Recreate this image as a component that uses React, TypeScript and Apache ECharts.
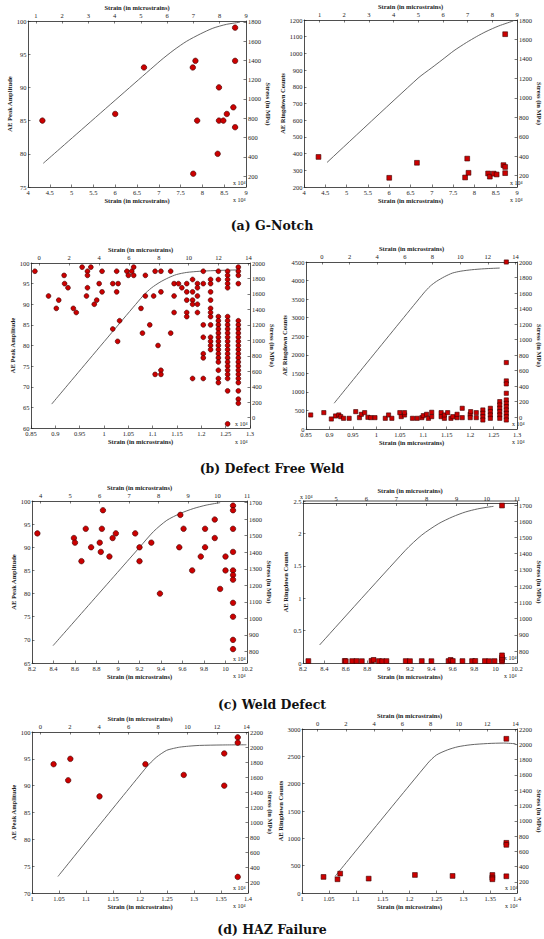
import React, { useEffect, useRef } from "react";
import * as echarts from "echarts";

const FONT = "'Liberation Serif', 'DejaVu Serif', serif";
const CAPTION_FONT = "'DejaVu Serif', 'Liberation Serif', serif";
const INK = "#222222";
const RED = "#cc0000";
const CURVE = "#555555";
const STRAIN = "Strain (in microstrains)";
const STRESS = "Stress (in MPa)";

// ---------- (a) G-Notch ----------
const aBottomTicks = [4, 4.5, 5, 5.5, 6, 6.5, 7, 7.5, 8, 8.5, 9];
const aTopTicks = [1, 2, 3, 4, 5, 6, 7, 8, 9];
const aStressTicks = [200, 400, 600, 800, 1000, 1200, 1400, 1600, 1800];
const aAmpStrain = [4.33, 6.0, 6.66, 7.78, 7.84, 7.88, 7.79, 8.35, 8.38, 8.38, 8.48, 8.56, 8.71, 8.75, 8.75, 8.75];
const aAmpValue = [85, 86, 93, 93, 94, 85, 77, 80, 90, 85, 85, 86, 87, 99, 94, 84];
const aCntStrain = [4.34, 6.0, 6.65, 7.83, 7.78, 7.86, 8.32, 8.36, 8.45, 8.52, 8.68, 8.72, 8.72, 8.72];
const aCntValue = [380, 255, 345, 370, 257, 285, 281, 262, 280, 275, 331, 320, 283, 1115];
const aCurveAmpStrain = [4.35, 7.03, 7.35, 7.64, 7.95, 8.24, 8.55, 8.86];
const aCurveAmpStress = [332, 1395, 1510, 1600, 1675, 1735, 1775, 1797];
const aCurveCntStrain = [4.54, 6.675, 7.0, 7.24, 7.52, 7.81, 8.05, 8.27, 8.57, 8.91];
const aCurveCntStress = [336, 1202, 1310, 1390, 1485, 1568, 1630, 1681, 1739, 1790];

// ---------- (b) Defect Free Weld ----------
const bBottomTicks = [0.85, 0.9, 0.95, 1, 1.05, 1.1, 1.15, 1.2, 1.25, 1.3];
const bTopTicks = [0, 2, 4, 6, 8, 10, 12, 14];
const bStressTicks = [0, 200, 400, 600, 800, 1000, 1200, 1400, 1600, 1800, 2000];
const bAmpStrain = [
  0.858, 0.918, 0.919, 0.886, 0.907, 0.902, 0.926, 0.937, 0.943, 0.955, 0.966, 0.966, 0.966, 0.964, 0.973,
  0.99, 0.996, 0.996, 0.98, 0.985, 1.018, 1.026, 1.026, 1.029, 1.018, 1.032, 1.028, 1.047, 1.05, 1.057,
  1.061, 1.061, 1.085, 1.085, 1.076, 1.079, 1.094, 1.105, 1.102, 1.105, 1.111, 1.117, 1.117, 1.117, 1.117,
  1.137, 1.137, 1.144, 1.144, 1.144, 1.153, 1.16, 1.17, 1.17, 1.17, 1.17, 1.17, 1.182, 1.182, 1.182,
  1.182, 1.182, 1.192, 1.192, 1.192, 1.192, 1.192, 1.204, 1.204, 1.204, 1.204, 1.204, 1.204, 1.204,
  1.219, 1.219, 1.219, 1.219, 1.219, 1.219, 1.219, 1.219, 1.219, 1.219, 1.219, 1.219,
  1.235, 1.235, 1.235, 1.235, 1.235, 1.235, 1.235, 1.235, 1.235, 1.235, 1.235, 1.235, 1.235, 1.235, 1.235, 1.235, 1.235,
  1.254, 1.254, 1.254, 1.254, 1.254, 1.254, 1.254, 1.254, 1.254, 1.254, 1.254, 1.254, 1.254, 1.254, 1.254, 1.254, 1.254, 1.254, 1.254, 1.254, 1.254, 1.254, 1.254,
  1.276, 1.276, 1.276, 1.276, 1.276, 1.276, 1.276, 1.276, 1.276, 1.276, 1.276, 1.276, 1.276, 1.276, 1.276, 1.276, 1.276, 1.276, 1.276, 1.276, 1.276, 1.276, 1.276,
];
const bAmpValue = [
  98, 97, 95, 92, 91, 89, 94, 89, 88, 99, 98, 97, 94, 92, 99,
  95, 98, 93, 90, 91, 95, 98, 93, 95, 84, 86, 81, 98, 97, 98,
  99, 97, 97, 92, 89, 83, 85, 98, 92, 73, 80, 98, 93, 74, 73,
  98, 83, 95, 92, 88, 95, 94, 95, 93, 91, 88, 87, 96, 93, 91,
  90, 72, 95, 94, 92, 90, 88, 98, 95, 85, 82, 78, 77, 72,
  96, 95, 93, 91, 89, 88, 87, 85, 82, 81, 80, 79,
  98, 96, 87, 86, 85, 84, 83, 82, 81, 80, 79, 78, 77, 76, 74, 72, 71,
  98, 97, 96, 95, 94, 87, 86, 85, 84, 83, 82, 81, 80, 79, 78, 77, 76, 75, 74, 73, 72, 69, 61,
  99, 98, 97, 95, 86, 85, 84, 83, 82, 81, 80, 79, 78, 77, 76, 75, 74, 73, 72, 71, 69, 67, 66,
];
const bCntStrain = [
  0.86, 0.888, 0.904, 0.913, 0.92, 0.924, 0.93, 0.942, 0.956, 0.964, 0.968, 0.975, 0.982, 0.988, 0.997,
  1.019, 1.026, 1.033, 1.05, 1.053, 1.06, 1.06, 1.077, 1.087, 1.097, 1.1, 1.107, 1.111, 1.118, 1.118,
  1.138, 1.138, 1.145, 1.145, 1.152, 1.159, 1.163, 1.172, 1.172, 1.183, 1.183, 1.2, 1.2, 1.201, 1.213, 1.213,
  1.227, 1.227, 1.227, 1.227, 1.243, 1.243, 1.243, 1.243,
  1.263, 1.263, 1.263, 1.263, 1.263, 1.263,
  1.277, 1.277, 1.277, 1.277, 1.277, 1.277, 1.277, 1.277, 1.277, 1.277, 1.277, 1.277,
];
const bCntValue = [
  378, 441, 270, 351, 378, 333, 288, 288, 468, 306, 396, 441, 315, 306, 306,
  288, 378, 288, 441, 333, 378, 441, 288, 288, 306, 360, 396, 288, 450, 333,
  441, 333, 288, 378, 441, 288, 333, 306, 396, 558, 306, 396, 306, 468, 441, 306,
  513, 423, 333, 243, 558, 468, 378, 288,
  738, 648, 558, 468, 378, 288,
  4500, 1791, 1296, 1215, 963, 783, 693, 603, 513, 423, 333, 243,
];
const bCurveAmpStrain = [0.8925, 1.0807, 1.098, 1.115, 1.132, 1.149, 1.17, 1.197, 1.24, 1.279];
const bCurveAmpStress = [176, 1580, 1680, 1752, 1808, 1851, 1878, 1893, 1905, 1911];
const bCurveCntStrain = [0.91, 1.101, 1.115, 1.128, 1.145, 1.162, 1.18, 1.203, 1.23, 1.263];
const bCurveCntStress = [181, 1600, 1690, 1750, 1810, 1857, 1882, 1900, 1913, 1922];

// ---------- (c) Weld Defect ----------
const cBottomTicks = [8.2, 8.4, 8.6, 8.8, 9, 9.2, 9.4, 9.6, 9.8, 10, 10.2];
const cTopTicksAmp = [4, 5, 6, 7, 8, 9, 10, 11];
const cTopTicksCnt = [5, 6, 7, 8, 9, 10, 11];
const cStressTicks = [800, 900, 1000, 1100, 1200, 1300, 1400, 1500, 1600, 1700];
const cAmpStrain = [
  8.25, 8.59, 8.6, 8.66, 8.7, 8.75, 8.83, 8.84, 8.85, 8.86, 8.92, 8.95, 8.98, 9.16, 9.2,
  9.2, 9.31, 9.39, 9.57, 9.58, 9.61, 9.69, 9.77, 9.81, 9.81, 9.9, 9.9, 9.95, 10.0, 10.0,
  10.07, 10.07, 10.07, 10.07, 10.07, 10.07, 10.07, 10.07, 10.07, 10.07, 10.07,
];
const cAmpValue = [
  93, 92, 91, 87, 94, 90, 91, 89, 94, 98, 88, 92, 93, 93, 90,
  87, 91, 80, 90, 97, 94, 85, 88, 94, 90, 96, 92, 81, 88, 85,
  99, 98, 94, 89, 85, 84, 83, 78, 75, 70, 68,
];
const cCntStrain = [
  8.25, 8.59, 8.6, 8.66, 8.7, 8.75, 8.84, 8.86, 8.91, 8.94, 8.98, 9.16, 9.2, 9.31, 9.4,
  9.56, 9.58, 9.6, 9.69, 9.78, 9.81, 9.9, 9.94, 9.99, 10.06, 10.06, 10.06, 10.06, 10.06,
];
const cCntValue = [
  300, 320, 280, 300, 310, 290, 330, 480, 300, 290, 300, 300, 290, 300, 290,
  300, 480, 310, 300, 300, 320, 300, 290, 300, 260, 510, 820, 1180, 24300,
];
const cCurveAmpStrain = [8.396, 9.205, 9.33, 9.454, 9.58, 9.7, 9.82, 9.95];
const cCurveAmpStress = [835, 1433, 1525, 1593, 1635, 1664, 1685, 1700];
const cCurveCntStrain = [8.355, 9.157, 9.31, 9.469, 9.6, 9.717, 9.83, 9.935, 9.98];
const cCurveCntStress = [837, 1421, 1515, 1586, 1628, 1657, 1676, 1688, 1692];

// ---------- (d) HAZ Failure ----------
const dBottomTicks = [1, 1.05, 1.1, 1.15, 1.2, 1.25, 1.3, 1.35, 1.4];
const dTopTicks = [0, 2, 4, 6, 8, 10, 12, 14];
const dStressTicks = [200, 400, 600, 800, 1000, 1200, 1400, 1600, 1800, 2000, 2200];
const dAmpStrain = [1.04, 1.067, 1.071, 1.125, 1.21, 1.281, 1.356, 1.356, 1.381, 1.381, 1.381];
const dAmpValue = [94, 91, 95, 88, 94, 92, 96, 90, 99, 98, 73];
const dCntStrain = [1.04, 1.066, 1.071, 1.124, 1.21, 1.28, 1.354, 1.354, 1.354, 1.38, 1.38, 1.38, 1.38];
const dCntValue = [294, 251, 355, 263, 330, 312, 330, 282, 251, 2821, 918, 881, 306];
const dCurveAmpStrain = [1.048, 1.212, 1.23, 1.249, 1.262, 1.2735, 1.29, 1.31, 1.35, 1.397];
const dCurveAmpStress = [274, 1739, 1870, 1963, 1990, 2007, 2020, 2030, 2036, 2039];
const dCurveCntStrain = [1.0615, 1.234, 1.25, 1.271, 1.29, 1.314, 1.345, 1.375, 1.397];
const dCurveCntStress = [274, 1754, 1860, 1928, 1968, 1994, 2010, 2016, 2007];

const CAPTIONS = ["(a) G-Notch", "(b) Defect Free Weld", "(c) Weld Defect", "(d) HAZ Failure"];

type Panel = {
  grid: { left: number; top: number; width: number; height: number };
  bottom: { min: number; max: number; ticks: number[] };
  top: { min: number; max: number; ticks: number[] };
  left: { min: number; max: number; interval: number; name: string; gap: number; fmt?: (v: number) => string };
  right: { min: number; max: number; ticks: number[]; gap: number };
  xs: number[];
  ys: number[];
  symbol: string;
  size: number;
  cx: number[];
  cs: number[];
};

const num = (v: number) => String(Math.round(v * 10000) / 10000);

const PANELS: Panel[] = [
  {
    grid: { left: 28, top: 21, width: 218, height: 166 },
    bottom: { min: 4, max: 9, ticks: aBottomTicks },
    top: { min: 0.7, max: 9, ticks: aTopTicks },
    left: { min: 75, max: 100, interval: 5, name: "AE Peak Amplitude", gap: 12 },
    right: { min: 86, max: 1810, ticks: aStressTicks, gap: 17 },
    xs: aAmpStrain, ys: aAmpValue, symbol: "circle", size: 5.5,
    cx: aCurveAmpStrain, cs: aCurveAmpStress,
  },
  {
    grid: { left: 304, top: 20, width: 220, height: 167 },
    bottom: { min: 4, max: 9, ticks: aBottomTicks },
    top: { min: 0.37, max: 9, ticks: aTopTicks },
    left: { min: 200, max: 1200, interval: 100, name: "AE Ringdown Counts", gap: 16 },
    right: { min: 84, max: 1800, ticks: aStressTicks, gap: 15 },
    xs: aCntStrain, ys: aCntValue, symbol: "rect", size: 4.8,
    cx: aCurveCntStrain, cs: aCurveCntStress,
  },
  {
    grid: { left: 31, top: 263, width: 219, height: 165 },
    bottom: { min: 0.85, max: 1.3, ticks: bBottomTicks },
    top: { min: -0.55, max: 14.1, ticks: bTopTicks },
    left: { min: 60, max: 100, interval: 5, name: "AE Peak Amplitude", gap: 13 },
    right: { min: -133, max: 2000, ticks: bStressTicks, gap: 17 },
    xs: bAmpStrain, ys: bAmpValue, symbol: "circle", size: 4.8,
    cx: bCurveAmpStrain, cs: bCurveAmpStress,
  },
  {
    grid: { left: 306, top: 262, width: 220, height: 167 },
    bottom: { min: 0.85, max: 1.3, ticks: bBottomTicks },
    top: { min: -1.15, max: 14.12, ticks: bTopTicks },
    left: { min: 0, max: 4500, interval: 500, name: "AE Ringdown Counts", gap: 17 },
    right: { min: -151, max: 2000, ticks: bStressTicks, gap: 13 },
    xs: bCntStrain, ys: bCntValue, symbol: "rect", size: 4.2,
    cx: bCurveCntStrain, cs: bCurveCntStress,
  },
  {
    grid: { left: 32, top: 501, width: 215, height: 162 },
    bottom: { min: 8.2, max: 10.2, ticks: cBottomTicks },
    top: { min: 3.71, max: 11, ticks: cTopTicksAmp },
    left: { min: 65, max: 100, interval: 5, name: "AE Peak Amplitude", gap: 12 },
    right: { min: 730, max: 1710, ticks: cStressTicks, gap: 16 },
    xs: cAmpStrain, ys: cAmpValue, symbol: "circle", size: 5.5,
    cx: cCurveAmpStrain, cs: cCurveAmpStress,
  },
  {
    grid: { left: 303, top: 501, width: 214, height: 162 },
    bottom: { min: 8.2, max: 10.2, ticks: cBottomTicks },
    top: { min: 3.9, max: 11, ticks: cTopTicksCnt },
    left: { min: 0, max: 25000, interval: 5000, name: "AE Ringdown Counts", gap: 13, fmt: (v: number) => num(v / 10000) },
    right: { min: 726, max: 1725, ticks: cStressTicks, gap: 16 },
    xs: cCntStrain, ys: cCntValue, symbol: "rect", size: 4.8,
    cx: cCurveCntStrain, cs: cCurveCntStress,
  },
  {
    grid: { left: 32, top: 732, width: 216, height: 161 },
    bottom: { min: 1, max: 1.4, ticks: dBottomTicks },
    top: { min: -0.57, max: 14.11, ticks: dTopTicks },
    left: { min: 70, max: 100, interval: 5, name: "AE Peak Amplitude", gap: 12 },
    right: { min: 53, max: 2210, ticks: dStressTicks, gap: 16 },
    xs: dAmpStrain, ys: dAmpValue, symbol: "circle", size: 5.5,
    cx: dCurveAmpStrain, cs: dCurveAmpStress,
  },
  {
    grid: { left: 302, top: 729, width: 217, height: 164 },
    bottom: { min: 1, max: 1.4, ticks: dBottomTicks },
    top: { min: -1.1, max: 14.12, ticks: dTopTicks },
    left: { min: 0, max: 3000, interval: 500, name: "AE Ringdown Counts", gap: 14 },
    right: { min: 56, max: 2200, ticks: dStressTicks, gap: 14 },
    xs: dCntStrain, ys: dCntValue, symbol: "rect", size: 4.8,
    cx: dCurveCntStrain, cs: dCurveCntStress,
  },
];

const EXP_LABELS: [number, number][] = [
  [233, 183], [233, 200], [510, 183], [510, 200],
  [235, 424], [235, 442], [512, 424], [512, 442],
  [233, 659], [233, 676], [504, 658], [504, 676], [300, 497],
  [233, 888], [233, 906], [505, 888], [505, 906],
];
const CAPTION_Y = [225, 468, 704, 929];

const axisLine = { show: true, onZero: false, lineStyle: { color: INK, width: 0.8 } };
const nameStyle = { fontSize: 6.5, fontWeight: "bold" as const, fontFamily: FONT, color: INK };
const labelBase = { fontSize: 6.5, color: INK, fontFamily: FONT };

function buildOption() {
  const grid: any[] = [];
  const xAxis: any[] = [];
  const yAxis: any[] = [];
  const series: any[] = [];
  PANELS.forEach((p, i) => {
    grid.push({ ...p.grid, containLabel: false });
    xAxis.push({
      type: "value", gridIndex: i, position: "bottom", min: p.bottom.min, max: p.bottom.max,
      name: STRAIN, nameLocation: "middle", nameGap: 7, nameTextStyle: nameStyle,
      axisLine,
      axisTick: { show: true, inside: true, length: 2.5, customValues: p.bottom.ticks, lineStyle: { color: INK, width: 0.6 } },
      axisLabel: { ...labelBase, margin: 2, customValues: p.bottom.ticks, formatter: num },
      splitLine: { show: false },
    });
    xAxis.push({
      type: "value", gridIndex: i, position: "top", min: p.top.min, max: p.top.max,
      offset: i === 5 ? -2.5 : 0,
      name: STRAIN, nameLocation: "middle", nameGap: 8, nameTextStyle: nameStyle,
      axisLine,
      axisTick: { show: true, inside: true, length: 2.5, customValues: p.top.ticks, lineStyle: { color: INK, width: 0.6 } },
      axisLabel: { ...labelBase, margin: 2, customValues: p.top.ticks, formatter: num },
      splitLine: { show: false },
    });
    yAxis.push({
      type: "value", gridIndex: i, position: "left", min: p.left.min, max: p.left.max, interval: p.left.interval,
      name: p.left.name, nameLocation: "middle", nameGap: p.left.gap, nameTextStyle: nameStyle,
      axisLine,
      axisTick: { show: true, inside: true, length: 2.5, lineStyle: { color: INK, width: 0.6 } },
      axisLabel: { ...labelBase, margin: 1.5, formatter: p.left.fmt || num },
      splitLine: { show: false },
    });
    yAxis.push({
      type: "value", gridIndex: i, position: "right", min: p.right.min, max: p.right.max,
      name: STRESS, nameLocation: "middle", nameGap: p.right.gap, nameRotate: -90, nameTextStyle: nameStyle,
      axisLine,
      axisTick: { show: true, inside: true, length: 2.5, customValues: p.right.ticks, lineStyle: { color: INK, width: 0.6 } },
      axisLabel: { ...labelBase, margin: 2, customValues: p.right.ticks, formatter: num },
      splitLine: { show: false },
    });
    series.push({
      type: "line", xAxisIndex: 2 * i, yAxisIndex: 2 * i + 1, z: 1,
      data: p.cx.map((x, k) => [x, p.cs[k]]),
      showSymbol: false, symbol: "none", smooth: 0.25,
      lineStyle: { color: CURVE, width: 0.9 },
    });
    series.push({
      type: "scatter", xAxisIndex: 2 * i, yAxisIndex: 2 * i, z: 3,
      data: p.xs.map((x, k) => [x, p.ys[k]]),
      symbol: p.symbol, symbolSize: p.size,
      itemStyle: { color: RED, borderColor: "#3a0000", borderWidth: 0.6, opacity: 1 },
    });
  });

  const graphic: any[] = [];
  CAPTIONS.forEach((c, i) => {
    graphic.push({
      type: "text", x: 272, y: CAPTION_Y[i],
      style: { text: c, fill: "#111", font: `bold 12.5px ${CAPTION_FONT}`, align: "center", verticalAlign: "middle" },
    });
  });
  EXP_LABELS.forEach(([x, y]) => {
    graphic.push({
      type: "text", x, y,
      style: { text: "x 10⁴", fill: INK, font: `6px ${FONT}`, align: "left", verticalAlign: "middle" },
    });
  });
  graphic.push({
    type: "line", shape: { x1: 303, y1: 501, x2: 517, y2: 501 },
    style: { stroke: INK, lineWidth: 0.8 },
  });

  return {
    animation: false,
    backgroundColor: "#ffffff",
    textStyle: { fontFamily: FONT },
    grid, xAxis, yAxis, series, graphic,
  };
}

export default function App() {
  const ref = useRef<HTMLDivElement>(null);
  useEffect(() => {
    if (!ref.current) return;
    const chart = echarts.init(ref.current, undefined, { renderer: "svg" });
    chart.setOption(buildOption() as any);
    return () => chart.dispose();
  }, []);
  return (
    <div
      ref={ref}
      style={{ position: "absolute", left: 0, top: 0, width: 544, height: 939, background: "#fff" }}
    />
  );
}
